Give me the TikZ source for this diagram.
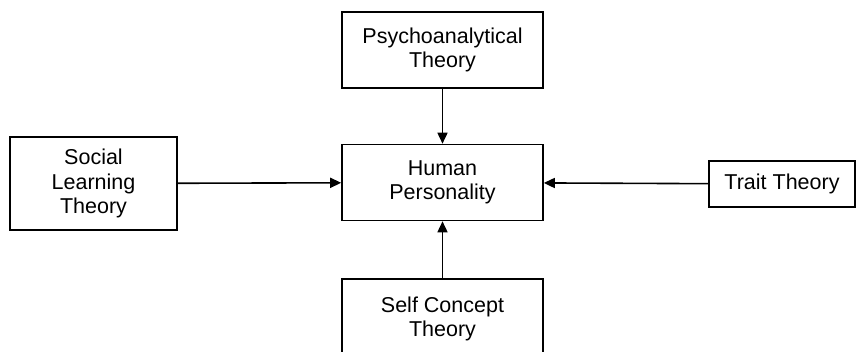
\documentclass[tikz,border=0pt]{standalone}
\usepackage{fontspec}
\setmainfont{Liberation Sans}
\usetikzlibrary{arrows.meta}
\begin{document}
\begin{tikzpicture}[x=1pt,y=-1pt,
  theory/.style={draw,line width=1.6pt,minimum width=201pt,minimum height=76pt,
    align=center,inner sep=0pt,font=\fontsize{21.5}{24.5}\selectfont},
  link/.style={line width=1.6pt,-{Triangle[length=11pt,width=10pt]}}]
\useasboundingbox (0,0) rectangle (865,351);
\clip (0,0) rectangle (865,351);
\node[theory] (psy) at (442.5,50) {Psychoanalytical\\Theory};
\node[theory] (hum) at (442.5,182.5) {Human\\Personality};
\node[theory,minimum width=167pt,minimum height=93pt] (soc) at (93.5,183.5) {Social\\Learning\\Theory};
\node[theory,minimum width=146pt,minimum height=46pt] (tra) at (782,184) {Trait Theory};
\node[theory,minimum height=100pt,text depth=25pt] (self) at (442.5,329) {Self Concept\\Theory};
\draw[link] (psy) -- (hum);
\draw[link] (soc) -- (hum);
\draw[link] (tra) -- (hum);
\draw[link] (self) -- (hum);
\end{tikzpicture}
\end{document}
